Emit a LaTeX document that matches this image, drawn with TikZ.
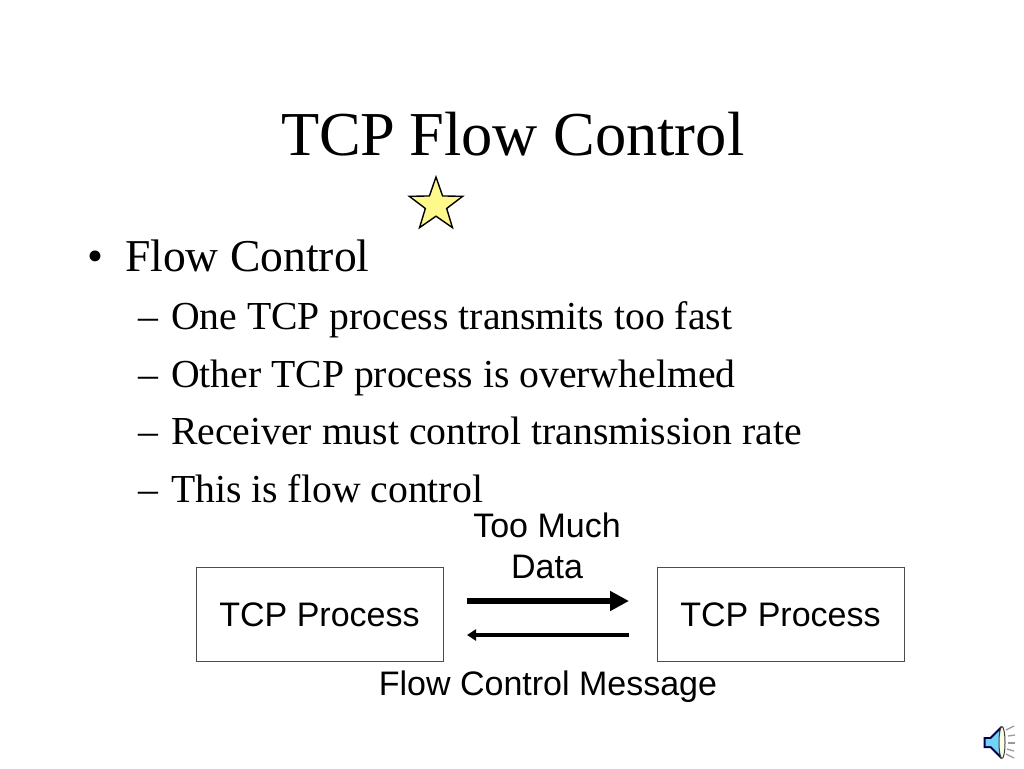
\documentclass[tikz,border=0pt]{standalone}
\usepackage{fontspec}
\setmainfont{Liberation Serif}
\newfontfamily\labelfont{Liberation Sans}
\usetikzlibrary{arrows.meta,shapes.geometric}

\begin{document}
\begin{tikzpicture}
[x=1pt, y=-1pt,
 line/.style={anchor=base west, inner sep=0, outer sep=0},
 title/.style={line, font=\fontsize{62.5}{62.5}\selectfont},
 first/.style={line, font=\fontsize{45.6}{45.6}\selectfont},
 second/.style={line, font=\fontsize{39.7}{39.7}\selectfont},
 label/.style={anchor=base, inner sep=0, outer sep=0, font=\labelfont\fontsize{34}{34}\selectfont},
 process/.style={draw=black!70, line width=1pt, minimum width=247pt, minimum height=94pt, inner sep=0},
 ray/.style={draw=black!40, line width=1.3pt}]
\useasboundingbox [fill=white] (0,0) rectangle (1024,768);
\node (head) [title] at (281, 155) {TCP\hspace{-2pt} Flow Control};
\node (mark) [star, star points=5, star point ratio=2.5, draw=black, fill=yellow!45, line width=1.4pt, minimum size=56pt, inner sep=0] at (436, 205) {};
\node (b0) [first] at (87, 271.5) {\textbullet};
\node (t0) [first] at (125, 271.5) {Flow Control};
\node (d1) [second] at (138, 329.5) {--};
\node (t1) [second] at (171, 329.5) {One TCP process transmits too fast};
\node (d2) [second] at (138, 387) {--};
\node (t2) [second] at (171, 387) {Other TCP process is overwhelmed};
\node (d3) [second] at (138, 444.5) {--};
\node (t3) [second] at (171, 444.5) {Receiver must control transmission rate};
\node (d4) [second] at (138, 502) {--};
\node (t4) [second] at (171, 502) {This is flow control};
\node (proca) [process] at (319.5, 614) {};
\node (procb) [process] at (780.5, 614) {};
\node (texta) [label] at (319.5, 626.5) {TCP Process};
\node (textb) [label] at (780.5, 626.5) {TCP Process};
\node (much) [label] at (547, 537) {Too Much};
\node (data) [label] at (547, 578.5) {Data};
\node (msg) [label] at (548, 695.5) {Flow Control Message};
\coordinate (1a) at (467, 601);
\coordinate (1b) at (629, 601);
\coordinate (2a) at (629, 635);
\coordinate (2b) at (467, 635);
\draw [-{Triangle[length=19pt, width=19pt]}, line width=6.5pt] (1a) -- (1b);
\draw [-{Triangle[length=9pt, width=11pt]}, line width=3.4pt] (2a) -- (2b);
% speaker
\fill [black!70!blue] (983.5, 737) -- (990, 737) -- (1001, 726) -- (1001, 759) -- (990, 748) -- (983.5, 748) -- cycle;
\fill [cyan!55!white] (985.5, 739) -- (991, 739) -- (999, 731) -- (999, 754) -- (991, 746) -- (985.5, 746) -- cycle;
\draw [black!75, fill=yellow!10, line width=1pt] (1002, 742.5) ellipse (3 and 16);
\draw [ray] (1006, 730) -- (1014, 726);
\draw [ray] (1008, 736) -- (1015, 735);
\draw [ray] (1008, 743) -- (1015, 743);
\draw [ray] (1007, 749) -- (1014, 751);
\draw [ray] (1006, 754) -- (1014, 758);
\end{tikzpicture}
\end{document}
